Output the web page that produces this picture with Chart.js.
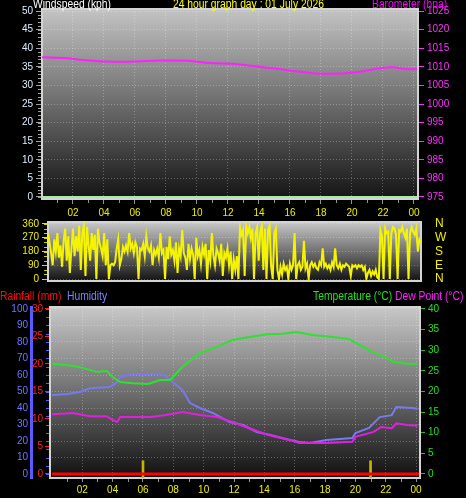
<!DOCTYPE html>
<html>
<head>
<meta charset="utf-8">
<script src="https://cdn.jsdelivr.net/npm/chart.js@4"></script>
<style>
    body { margin: 0; background: #000; width: 466px; height: 498px; overflow: hidden; position: relative; font-family: "Liberation Sans", Arial, sans-serif; }
    canvas { position: absolute; left: 0; }
    .lbl { position: absolute; font-size: 12px; line-height: 14px; white-space: nowrap; z-index: 2; transform: scaleX(0.86); transform-origin: 0 0; }
</style>
</head>
<body>
<div class="lbl" style="left:33px;top:-3px;color:#ffffff">Windspeed (kph)</div>
<div class="lbl" style="left:173px;top:-3px;color:#ffff00">24 hour graph day : 01 July 2026</div>
<div class="lbl" style="left:372px;top:-3px;color:#ff00ff">Barometer (hpa)</div>
<div class="lbl" style="left:0px;top:289px;color:#ff1010">Rainfall (mm)</div>
<div class="lbl" style="left:67px;top:289px;color:#8080ff">Humidity</div>
<div class="lbl" style="left:313px;top:289px;color:#20e020">Temperature (°C)</div>
<div class="lbl" style="left:395px;top:289px;color:#ff20ff">Dew Point (°C)</div>

<canvas id="windChart" width="466" height="218" style="top:0px"></canvas>
<canvas id="dirChart" width="466" height="78" style="top:212px"></canvas>
<canvas id="climateChart" width="466" height="202" style="top:296px"></canvas>

<script>
// x axis labels (hours)
const hourTicks = [2, 4, 6, 8, 10, 12, 14, 16, 18, 20, 22, 24];

// top panel: windspeed + barometer
const windTicks = [0, 5, 10, 15, 20, 25, 30, 35, 40, 45, 50];
const baroTicks = [975, 980, 985, 990, 995, 1000, 1005, 1010, 1015, 1020, 1025];
const windHours = [0, 6, 12, 18, 24.2];
const windSpeed = [0, 0, 0, 0, 0];
const baroHours = [0, 1.6, 2.45, 4.2, 5.9, 7.6, 9.35, 10.6, 12.3, 13.6, 14.9, 16.2, 17.5, 19.2, 20.5, 21.8, 22.6, 23.5, 24.2];
const baroValues = [1012.55, 1012.3, 1011.9, 1011.4, 1011.4, 1011.7, 1011.6, 1011.1, 1010.8, 1010.2, 1009.6, 1008.9, 1008.3, 1008.2, 1008.7, 1009.6, 1009.9, 1009.4, 1009.4];

// middle panel: wind direction, one reading every 6 minutes
const dirTicks = [0, 90, 180, 270, 360];
const compassLabels = ['N', 'E', 'S', 'W', 'N'];
const dirValues = [
    300, 240, 170, 90, 260, 180, 300, 140, 220, 80,
    250, 330, 120, 280, 40, 200, 330, 150, 280, 180,
    350, 60, 300, 350, 20, 340, 220, 120, 300, 190,
    290, 0, 330, 240, 200, 150, 300, 90, 260, 0,
    90, 100, 90, 110, 200, 260, 90, 130, 210, 180,
    220, 180, 300, 200, 230, 170, 240, 210, 0, 200,
    190, 230, 150, 280, 200, 180, 220, 90, 190, 160,
    200, 140, 300, 170, 190, 0, 210, 130, 280, 160,
    190, 120, 240, 40, 200, 150, 320, 170, 140, 60,
    230, 130, 200, 160, 0, 270, 150, 190, 100, 210,
    160, 230, 0, 190, 120, 300, 150, 90, 200, 170,
    120, 230, 20, 170, 140, 200, 90, 180, 0, 130,
    60, 150, 0, 340, 290, 320, 20, 350, 300, 340,
    270, 330, 0, 300, 340, 120, 310, 350, 60, 330,
    0, 320, 350, 80, 0, 300, 330, 60, 0, 80,
    30, 100, 60, 80, 0, 100, 60, 90, 300, 0,
    90, 110, 60, 80, 250, 70, 100, 0, 90, 110,
    80, 100, 70, 60, 110, 90, 200, 80, 100, 70,
    90, 60, 110, 80, 200, 90, 70, 100, 60, 90,
    80, 100, 90, 80, 20, 90, 80, 90, 70, 90,
    80, 90, 60, 80, 0, 40, 60, 20, 50, 30,
    60, 10, 0, 320, 280, 0, 330, 300, 310, 0,
    300, 340, 330, 290, 0, 320, 310, 340, 300, 270,
    330, 0, 300, 340, 310, 290, 330, 180, 260, 240
];

// bottom panel: rainfall, humidity, temperature, dew point
const humTicks = [0, 10, 20, 30, 40, 50, 60, 70, 80, 90, 100];
const rainTicks = [0, 5, 10, 15, 20, 25, 30];
const tempTicks = [0, 5, 10, 15, 20, 25, 30, 35, 40];
const tempHours = [0, 1, 1.85, 3.0, 3.6, 4.0, 4.5, 5.3, 6.3, 6.5, 7.1, 7.8, 8.6, 9.75, 10.9, 11.9, 13.0, 14.2, 15.2, 16.1, 17.2, 18.5, 19.6, 20.5, 21.1, 22.1, 22.5, 23.4, 24.1];
const tempValues = [26.7, 26.4, 25.9, 24.7, 25.0, 23.5, 22.3, 22.0, 21.8, 22.0, 22.8, 22.8, 26.0, 29.3, 30.8, 32.5, 33.2, 33.9, 34.0, 34.4, 33.7, 33.2, 32.7, 30.8, 29.6, 28.1, 27.2, 26.7, 26.7];
const dewHours = [0, 1.4, 2.5, 3.6, 4.0, 4.3, 4.5, 5.3, 6.5, 7.5, 8.6, 9.75, 10.9, 11.9, 13.0, 14.2, 15.7, 16.3, 17.0, 18.1, 19.8, 20.0, 21.2, 21.7, 22.4, 22.7, 23.4, 24.1];
const dewValues = [14.5, 14.8, 14.0, 14.0, 13.1, 12.6, 13.8, 13.8, 13.8, 14.3, 15.0, 14.3, 13.8, 12.6, 11.1, 9.5, 8.2, 7.5, 7.5, 7.5, 7.8, 9.0, 10.2, 11.4, 11.1, 12.3, 11.9, 11.7];
const humHours = [0, 1, 1.85, 2.5, 3.8, 4.2, 4.5, 5.3, 6.9, 7.4, 7.8, 8.6, 9.1, 9.75, 10.6, 11.7, 12.6, 13.5, 14.4, 15.7, 16.3, 17.0, 18.1, 19.8, 20.0, 20.9, 21.6, 22.4, 22.7, 23.8, 24.1];
const humValues = [47.9, 48.5, 49.7, 52, 52.7, 55, 59, 60.6, 60.6, 60, 57, 51, 43, 40, 37, 31.5, 29.7, 25.5, 23.6, 20.6, 19.4, 18.8, 20.6, 21.8, 24.8, 27.9, 34.5, 35.7, 40.6, 40, 39.4];
const rainHours = [0, 12, 24.2];
const rainTotal = [0, 0, 0];
const rainRateHours = [6.0, 21.0];
const rainRate = [2.4, 2.4];

const gridDots = 'rgba(255,255,255,0.28)';
const tickFont = { family: '"Liberation Sans", Arial, sans-serif', size: 10 };

function fmtHour(v) {
    return String(v % 24).padStart(2, '0');
}

function plain(v) {
    return String(v);
}

function pts(xs, ys) {
    return xs.map((x, i) => ({ x: x, y: ys[i] }));
}

function fixTicks(list) {
    return function (scale) {
        scale.ticks = list.map(v => ({ value: v }));
    };
}

// gradient behind the plot and the light frame round it
function makeBackground(stops) {
    return {
        id: 'plotBackground',
        beforeDraw(chart) {
            const { ctx, chartArea: a } = chart;
            const g = ctx.createLinearGradient(0, a.top, 0, a.bottom);
            stops.forEach(s => g.addColorStop(s[0], s[1]));
            ctx.save();
            ctx.fillStyle = g;
            ctx.fillRect(a.left, a.top, a.right - a.left, a.bottom - a.top);
            ctx.restore();
        },
        beforeDatasetsDraw(chart) {
            const { ctx, chartArea: a } = chart;
            ctx.save();
            ctx.strokeStyle = '#d4d4d4';
            ctx.lineWidth = 2;
            ctx.strokeRect(a.left, a.top, a.right - a.left, a.bottom - a.top);
            ctx.restore();
        }
    };
}

// small in-between tick marks
function makeMinorTicks(items) {
    return {
        id: 'minorTicks',
        afterDraw(chart) {
            const { ctx, chartArea: a } = chart;
            items.forEach(m => {
                const s = chart.scales[m.scale];
                ctx.save();
                ctx.strokeStyle = m.color;
                ctx.lineWidth = 1;
                ctx.beginPath();
                for (let v = m.from; v <= m.to + 1e-9; v += m.step) {
                    const p = Math.round(s.getPixelForValue(v)) + 0.5;
                    if (s.isHorizontal()) {
                        ctx.moveTo(p, a.bottom + 1);
                        ctx.lineTo(p, a.bottom + 1 + m.len);
                    } else if (m.side === 'right') {
                        ctx.moveTo(a.right + 1, p);
                        ctx.lineTo(a.right + 1 + m.len, p);
                    } else {
                        ctx.moveTo(a.left - 1 - m.len, p);
                        ctx.lineTo(a.left - 1, p);
                    }
                }
                ctx.stroke();
                ctx.restore();
            });
        }
    };
}

const baseOptions = {
    responsive: false,
    animation: false,
    events: [],
    plugins: { legend: { display: false }, tooltip: { enabled: false } }
};

// ---- top: windspeed / barometer ----
new Chart(document.getElementById('windChart'), {
    type: 'line',
    data: {
        datasets: [{
            label: 'Barometer',
            data: pts(baroHours, baroValues),
            yAxisID: 'yBaro',
            borderColor: '#ff20ff',
            borderWidth: 2,
            pointRadius: 0,
            tension: 0.3
        }, {
            label: 'Windspeed',
            data: pts(windHours, windSpeed),
            yAxisID: 'yWind',
            borderColor: '#a8e8a8',
            borderWidth: 2,
            pointRadius: 0
        }]
    },
    options: Object.assign({}, baseOptions, {
        layout: { padding: { top: 9, left: 0, right: 0, bottom: 0 } },
        scales: {
            x: {
                type: 'linear', min: 0, max: 24.26, offset: false,
                afterBuildTicks: fixTicks(hourTicks),
                afterFit: s => { s.height = 19; },
                ticks: { color: '#eeee00', font: tickFont, padding: 3, maxRotation: 0, autoSkip: false, callback: fmtHour },
                grid: { color: gridDots, tickColor: '#909090', tickLength: 5 },
                border: { display: false, dash: [1, 2] }
            },
            yWind: {
                position: 'left', min: -0.54, max: 50.54,
                afterBuildTicks: fixTicks(windTicks),
                afterFit: s => { s.width = 42; },
                ticks: { color: '#dcecff', font: tickFont, padding: 3, autoSkip: false, callback: plain },
                grid: { color: gridDots, tickColor: '#a0a0a0', tickLength: 6 },
                border: { display: false, dash: [1, 2] }
            },
            yBaro: {
                position: 'right', min: 974.46, max: 1025.54,
                afterBuildTicks: fixTicks(baroTicks),
                afterFit: s => { s.width = 48; },
                ticks: { color: '#ff30ff', font: tickFont, padding: 3, autoSkip: false, callback: plain },
                grid: { drawOnChartArea: false, color: '#ff30ff', tickLength: 6 },
                border: { display: false }
            }
        }
    }),
    plugins: [
        makeBackground([[0, '#c4c4c4'], [0.5, '#6c6c6c'], [1, '#141414']]),
        makeMinorTicks([{ scale: 'yWind', from: 0, to: 50, step: 1, len: 3, color: '#a0a0a0' },
                        { scale: 'x', from: 1, to: 23, step: 2, len: 3, color: '#909090' }])
    ]
});

// ---- middle: wind direction ----
new Chart(document.getElementById('dirChart'), {
    type: 'line',
    data: {
        labels: dirValues.map((v, i) => i),
        datasets: [{
            label: 'Wind direction',
            data: dirValues,
            yAxisID: 'y',
            borderColor: '#f4f400',
            borderWidth: 2,
            pointRadius: 0,
            tension: 0
        }]
    },
    options: Object.assign({}, baseOptions, {
        layout: { padding: { top: 10, left: 0, right: 0, bottom: 0 } },
        scales: {
            x: {
                type: 'category', offset: false,
                afterFit: s => { s.height = 8; },
                ticks: { display: false },
                grid: { display: false },
                border: { display: false }
            },
            y: {
                position: 'left', min: -13, max: 373,
                afterBuildTicks: fixTicks(dirTicks),
                afterFit: s => { s.width = 48; },
                ticks: { color: '#eeee00', font: tickFont, padding: 3, autoSkip: false, callback: plain },
                grid: { color: gridDots, tickColor: '#e0e000', tickLength: 6 },
                border: { display: false, dash: [1, 2] }
            },
            yCompass: {
                position: 'right', min: -13, max: 373,
                afterBuildTicks: fixTicks(dirTicks),
                afterFit: s => { s.width = 45; },
                ticks: { color: '#f0f000', font: { family: tickFont.family, size: 12 }, padding: 0, autoSkip: false,
                         callback: v => compassLabels[dirTicks.indexOf(v)] },
                grid: { drawOnChartArea: false, drawTicks: true, tickLength: 14, color: 'rgba(0,0,0,0)' },
                border: { display: false }
            }
        }
    }),
    plugins: [
        makeBackground([[0, '#c8c8c8'], [0.5, '#707070'], [1, '#121212']]),
        makeMinorTicks([{ scale: 'y', from: 0, to: 360, step: 30, len: 3, color: '#d0d000' }])
    ]
});

// ---- bottom: rainfall / humidity / temperature / dew point ----
new Chart(document.getElementById('climateChart'), {
    type: 'line',
    data: {
        datasets: [{
            label: 'Temperature',
            data: pts(tempHours, tempValues),
            yAxisID: 'yTemp',
            borderColor: '#30e030',
            borderWidth: 2,
            pointRadius: 0
        }, {
            label: 'Dew Point',
            data: pts(dewHours, dewValues),
            yAxisID: 'yTemp',
            borderColor: '#e020e0',
            borderWidth: 2,
            pointRadius: 0
        }, {
            label: 'Humidity',
            data: pts(humHours, humValues),
            yAxisID: 'yHum',
            borderColor: '#7878f0',
            borderWidth: 2,
            pointRadius: 0
        }, {
            label: 'Rainfall',
            data: pts(rainHours, rainTotal),
            yAxisID: 'yRain',
            borderColor: '#ff0000',
            borderWidth: 3,
            pointRadius: 0
        }, {
            type: 'bar',
            label: 'Rain rate',
            data: pts(rainRateHours, rainRate),
            yAxisID: 'yRain',
            base: -0.73,
            backgroundColor: '#c8b400',
            barThickness: 2
        }]
    },
    options: Object.assign({}, baseOptions, {
        layout: { padding: { top: 11, left: 0, right: 0, bottom: 0 } },
        scales: {
            x: {
                type: 'linear', min: -0.13, max: 24.26, offset: false,
                afterBuildTicks: fixTicks(hourTicks),
                afterFit: s => { s.height = 20; },
                ticks: { color: '#eeee00', font: tickFont, padding: 2, maxRotation: 0, autoSkip: false, callback: fmtHour },
                grid: { color: gridDots, tickColor: '#909090', tickLength: 4, offset: false },
                border: { display: false, dash: [1, 2] }
            },
            yHum: {
                position: 'left', weight: 1, min: -2.4, max: 101.2,
                afterBuildTicks: fixTicks(humTicks),
                afterFit: s => { s.width = 31; },
                ticks: { color: '#6a78ff', font: tickFont, padding: 3, autoSkip: false, callback: plain },
                grid: { color: gridDots, drawTicks: false },
                border: { display: true, color: '#5a5aff', width: 3, dash: [1, 2] }
            },
            yRain: {
                position: 'left', weight: 0, min: -0.73, max: 30.36,
                afterBuildTicks: fixTicks(rainTicks),
                afterFit: s => { s.width = 19; },
                ticks: { color: '#ff2020', font: tickFont, padding: 2, autoSkip: false, callback: plain },
                grid: { drawOnChartArea: false, color: '#ff2020', tickLength: 5 },
                border: { display: false }
            },
            yTemp: {
                position: 'right', min: -0.97, max: 40.48,
                afterBuildTicks: fixTicks(tempTicks),
                afterFit: s => { s.width = 46; },
                ticks: { color: '#20e020', font: tickFont, padding: 3, autoSkip: false, callback: plain },
                grid: { drawOnChartArea: false, color: '#20c020', tickLength: 5 },
                border: { display: false }
            }
        }
    }),
    plugins: [
        makeBackground([[0, '#c8c8c8'], [0.5, '#6e6e6e'], [1, '#101010']]),
        makeMinorTicks([{ scale: 'x', from: 1, to: 23, step: 2, len: 3, color: '#909090' },
                        { scale: 'yHum', from: 0, to: 100, step: 5, len: 3, color: '#5a5aff' }])
    ]
});
</script>
</body>
</html>
